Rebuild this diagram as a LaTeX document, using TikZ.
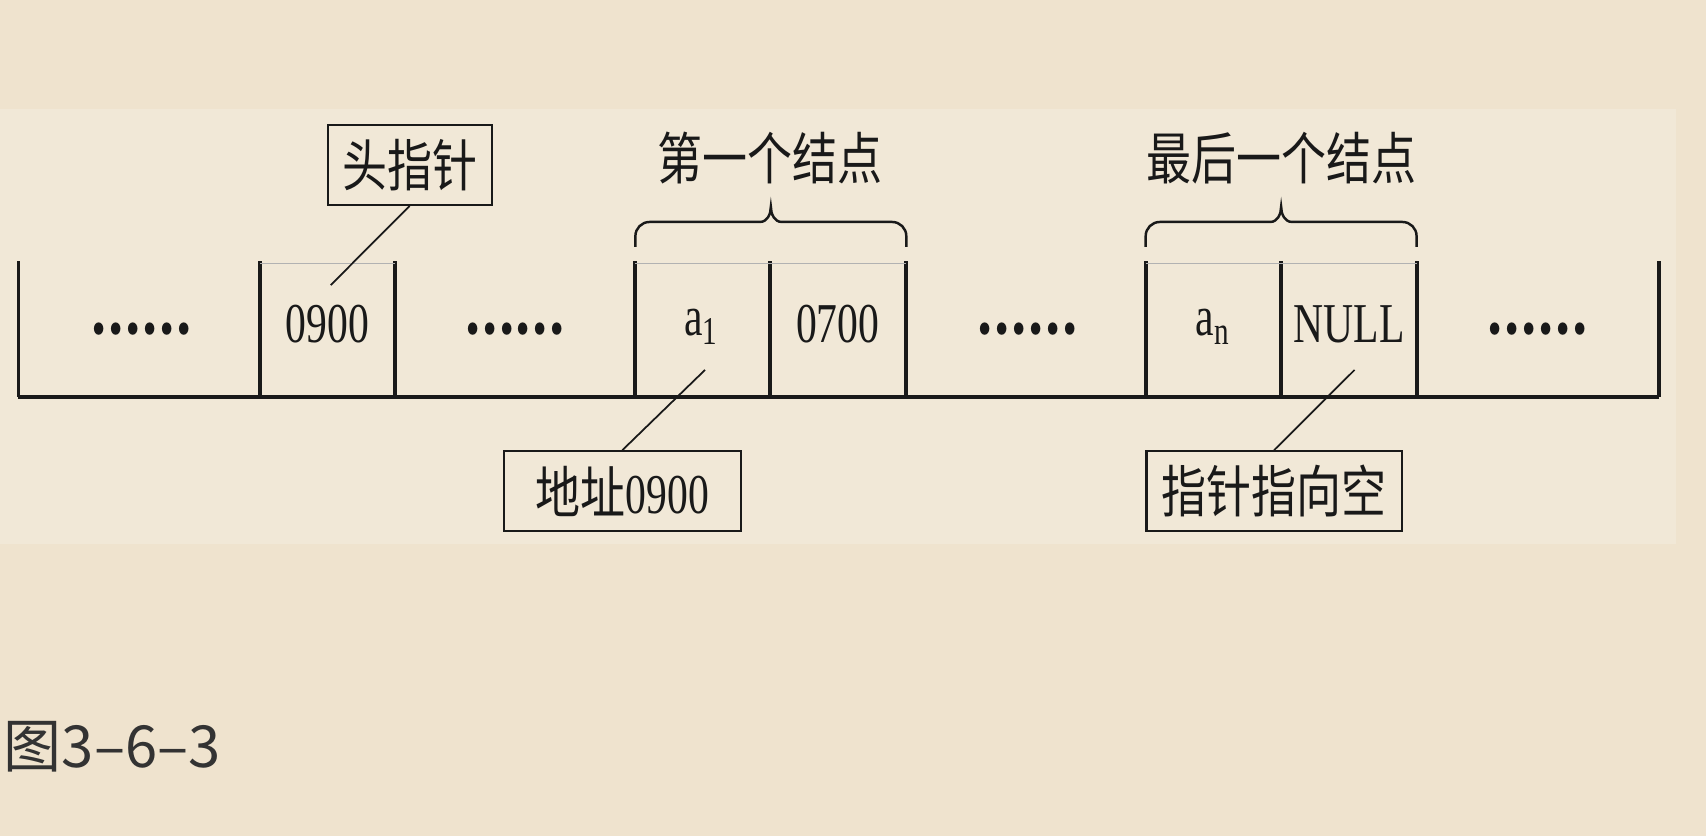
\documentclass[tikz,border=0pt]{standalone}
\usepackage{fontspec}
\setmainfont{Liberation Serif}[FakeStretch=0.74]
\newfontfamily\cjk{Noto Sans CJK SC}[FakeStretch=0.8]
\newfontfamily\capfont{Noto Sans CJK SC}
\definecolor{bgouter}{RGB}{239,227,206}
\definecolor{bgpanel}{RGB}{241,232,215}
\definecolor{ink}{RGB}{25,25,25}
\tikzset{
  wall/.style={ink,line width=1.1pt},
  lid/.style={gray!60,line width=0.4pt},
  cell/.style={ink,inner sep=0pt,font=\fontsize{16}{16}\selectfont},
  dots/.style={ink,inner sep=0pt,font=\cjk\bfseries\fontsize{16}{16}\selectfont},
  tag/.style={draw=ink,text=ink,line width=0.6pt,inner sep=0pt,minimum height=0.8cm,
    font=\fontsize{16}{16}\selectfont},
  title/.style={ink,inner sep=0pt,font=\cjk\fontsize{16}{16}\selectfont},
  lead/.style={ink,line width=0.5pt},
  span/.style={ink,line width=0.7pt}
}
% brace over a node: left x, right x
\newcommand{\spanbrace}[2]{%
  \pgfmathsetmacro{\bmid}{(#1+#2)/2}%
  \draw[span] (#1,227) -- (#1,217) to[out=90,in=180] (#1+13,204)
    -- (\bmid-10,204) to[out=0,in=-90] (\bmid,190)
    to[out=-90,in=180] (\bmid+10,204) -- (#2-13,204)
    to[out=0,in=90] (#2,217) -- (#2,227);}
\begin{document}
\begin{tikzpicture}[x=0.01088cm,y=-0.01088cm]
% background
\fill[bgouter] (0,0) rectangle (1568,768);
\fill[bgpanel] (0,100) rectangle (1540,500);
% memory strip
\draw[wall] (17,365) -- (1525,365);
\foreach \x in {17,239,363,584,708,833,1053,1177,1302,1525}
  \draw[wall] (\x,240) -- (\x,365);
\draw[lid] (239,242) -- (363,242) (584,242) -- (833,242) (1053,242) -- (1302,242);
% cell contents
\node[dots] (gap1) at (130,302) {……};
\node[cell] (head) at (301,298) {0900};
\node[dots] (gap2) at (473,302) {……};
\node[cell] (data1) at (645,300) {a\textsubscript{1}};
\node[cell] (next1) at (770,298) {0700};
\node[dots] (gap3) at (944,302) {……};
\node[cell] (datan) at (1115,300) {a\textsubscript{n}};
\node[cell] (nextn) at (1240,298) {NULL};
\node[dots] (gap4) at (1413,302) {……};
% braces
\spanbrace{584}{833}
\spanbrace{1053}{1302}
\node[title] (first) at (708,145) {第一个结点};
\node[title] (last) at (1178,145) {最后一个结点};
% callouts
\node[tag,minimum width=1.64cm] (headtag) at (376.5,151.5) {\cjk 头指针};
\node[tag,minimum width=2.37cm] (addrtag) at (572,451.5) {{\cjk 地址}0900};
\node[tag,minimum width=2.55cm] (nulltag) at (1171,451.5) {\cjk 指针指向空};
\coordinate (headpt) at (304,262);
\coordinate (a1pt) at (648,340);
\coordinate (nullpt) at (1245,340);
\draw[lead] (headtag.south) -- (headpt);
\draw[lead] (addrtag.north) -- (a1pt);
\draw[lead] (nulltag.north) -- (nullpt);
% caption
\node[anchor=west,inner sep=0pt,text=black!80,font=\capfont\fontsize{16.5}{16.5}\selectfont] (cap) at (3,686) {图3–6–3};
\end{tikzpicture}
\end{document}
